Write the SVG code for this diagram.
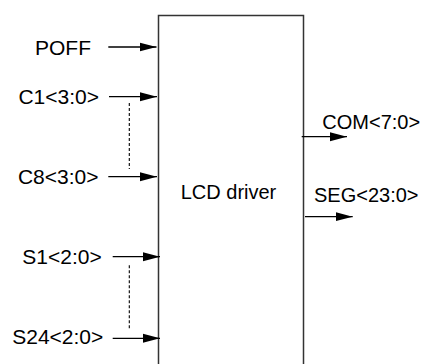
<svg xmlns="http://www.w3.org/2000/svg" width="426" height="364" viewBox="0 0 426 364">
  <style>
    text { font-family: "Liberation Sans", Arial, sans-serif; fill: #000; }
    .l { font-size: 21px; text-anchor: end; }
    .r { font-size: 20px; }
    .w { stroke: #000; stroke-width: 1.3; fill: none; }
    .d { stroke: #000; stroke-width: 1.1; stroke-dasharray: 3 2; fill: none; }
    .box { fill: #fff; stroke: #333; stroke-width: 1.5; }
  </style>
  <defs>
    <marker id="ah" markerUnits="userSpaceOnUse" markerWidth="18" markerHeight="10" refX="17" refY="5" orient="auto">
      <path d="M0,0.5 L17,5 L0,9.5 Z" fill="#000"/>
    </marker>
  </defs>
  <rect width="426" height="364" fill="#fff"/>
  <g id="lcd-driver">
    <rect class="box" x="158.5" y="15.5" width="145" height="360"/>
    <text class="r" x="180.7" y="199">LCD driver</text>
  </g>
  <g id="poff"><text class="l" x="91" y="54.5">POFF</text></g>
  <g id="c1"><text class="l" x="99" y="103.5">C1&lt;3:0&gt;</text></g>
  <g id="c8"><text class="l" x="98.5" y="183.5">C8&lt;3:0&gt;</text></g>
  <g id="s1"><text class="l" x="101.7" y="263.5">S1&lt;2:0&gt;</text></g>
  <g id="s24"><text class="l" x="103.3" y="343.5">S24&lt;2:0&gt;</text></g>
  <g id="com"><text class="r" x="322.3" y="128.5">COM&lt;7:0&gt;</text></g>
  <g id="seg"><text class="r" x="314" y="202">SEG&lt;23:0&gt;</text></g>
  <g id="connectors">
    <line class="w" x1="108.3" y1="47" x2="156.5" y2="47" marker-end="url(#ah)"/>
    <line class="w" x1="109" y1="96.7" x2="157" y2="96.7" marker-end="url(#ah)"/>
    <line class="w" x1="108.3" y1="176.7" x2="157" y2="176.7" marker-end="url(#ah)"/>
    <line class="w" x1="112.7" y1="256.7" x2="160" y2="256.7" marker-end="url(#ah)"/>
    <line class="w" x1="112.7" y1="338.3" x2="160" y2="338.3" marker-end="url(#ah)"/>
    <line class="d" x1="129.3" y1="103" x2="129.3" y2="169"/>
    <line class="d" x1="129.3" y1="265.3" x2="129.3" y2="330.3"/>
    <line class="w" x1="301.7" y1="136.7" x2="347" y2="136.7" marker-end="url(#ah)"/>
    <line class="w" x1="305" y1="216.7" x2="352.7" y2="216.7" marker-end="url(#ah)"/>
  </g>
</svg>
